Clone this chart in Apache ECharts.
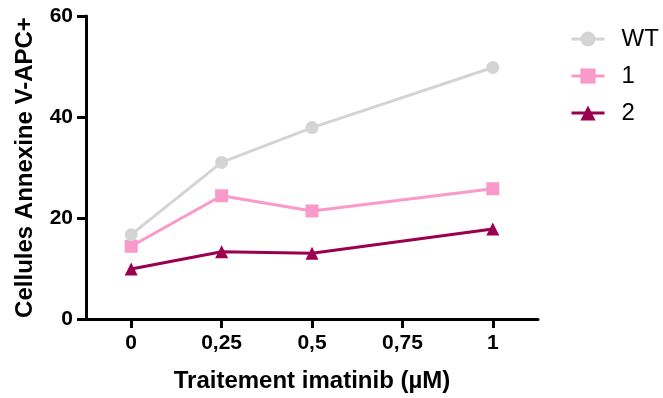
<!DOCTYPE html>
<html>
<head>
<meta charset="utf-8">
<script src="https://cdn.jsdelivr.net/npm/echarts@6/dist/echarts.min.js"></script>
<style>
html,body{margin:0;padding:0;background:#fff;}
#chart{width:663px;height:398px;}
</style>
</head>
<body>
<div id="chart"></div>
<script>
var xValues = [0, 0.25, 0.5, 1];
var xTicks = [0, 0.25, 0.5, 0.75, 1];
var seriesNames = ['WT', '1', '2'];
var wtValues = [16.7, 31.0, 37.9, 49.8];
var s1Values = [14.4, 24.4, 21.4, 25.8];
var s2Values = [9.9, 13.3, 13.0, 17.8];
var yTicks = [0, 20, 40, 60];

var colors = ['#d4d4d4', '#f99aca', '#9b0050'];
var symbols = ['circle', 'rect', 'triangle'];
var allValues = [wtValues, s1Values, s2Values];

function pairs(vals) {
  return xValues.map(function (x, i) { return [x, vals[i]]; });
}

var chart = echarts.init(document.getElementById('chart'), null, {renderer: 'canvas'});
var font = '"Liberation Sans", Arial, sans-serif';

var option = {
  animation: false,
  backgroundColor: '#fff',
  grid: {left: 86, right: 125, top: 16, bottom: 75, containLabel: false},
  legend: {
    orient: 'vertical',
    left: 565,
    top: 22,
    itemWidth: 33,
    itemHeight: 19,
    itemGap: 13,
    data: seriesNames,
    lineStyle: {width: 3},
    textStyle: {fontFamily: font, fontSize: 24, color: '#000', padding: [0, 0, 0, 12], lineHeight: 24}
  },
  xAxis: {
    type: 'value',
    min: -0.125,
    max: 1.125,
    name: 'Traitement imatinib (µM)',
    nameLocation: 'middle',
    nameGap: 50,
    nameTextStyle: {fontFamily: font, fontSize: 24, fontWeight: 'bold', color: '#000'},
    axisLine: {show: true, onZero: false, lineStyle: {color: '#000', width: 3}},
    axisTick: {show: true, length: 9, lineStyle: {color: '#000', width: 3}, customValues: xTicks},
    axisLabel: {
      margin: 14,
      fontFamily: font, fontSize: 21, fontWeight: 'bold', color: '#000',
      customValues: xTicks,
      formatter: function (v) { return String(v).replace('.', ','); }
    },
    splitLine: {show: false}
  },
  yAxis: {
    type: 'value',
    min: yTicks[0],
    max: yTicks[yTicks.length - 1],
    interval: 20,
    name: 'Cellules Annexine V-APC+',
    nameLocation: 'middle',
    nameGap: 49,
    nameTextStyle: {fontFamily: font, fontSize: 24, fontWeight: 'bold', color: '#000'},
    axisLine: {show: true, onZero: false, lineStyle: {color: '#000', width: 3}},
    axisTick: {show: true, length: 9, lineStyle: {color: '#000', width: 3}},
    axisLabel: {margin: 13, fontFamily: font, fontSize: 21, fontWeight: 'bold', color: '#000'},
    splitLine: {show: false}
  },
  series: seriesNames.map(function (n, i) {
    return {
      name: n,
      type: 'line',
      data: pairs(allValues[i]),
      symbol: symbols[i],
      symbolSize: 13,
      showAllSymbol: true,
      z: 10 - i,
      lineStyle: {color: colors[i], width: 3},
      itemStyle: {color: colors[i]}
    };
  })
};
chart.setOption(option);
</script>
</body>
</html>
